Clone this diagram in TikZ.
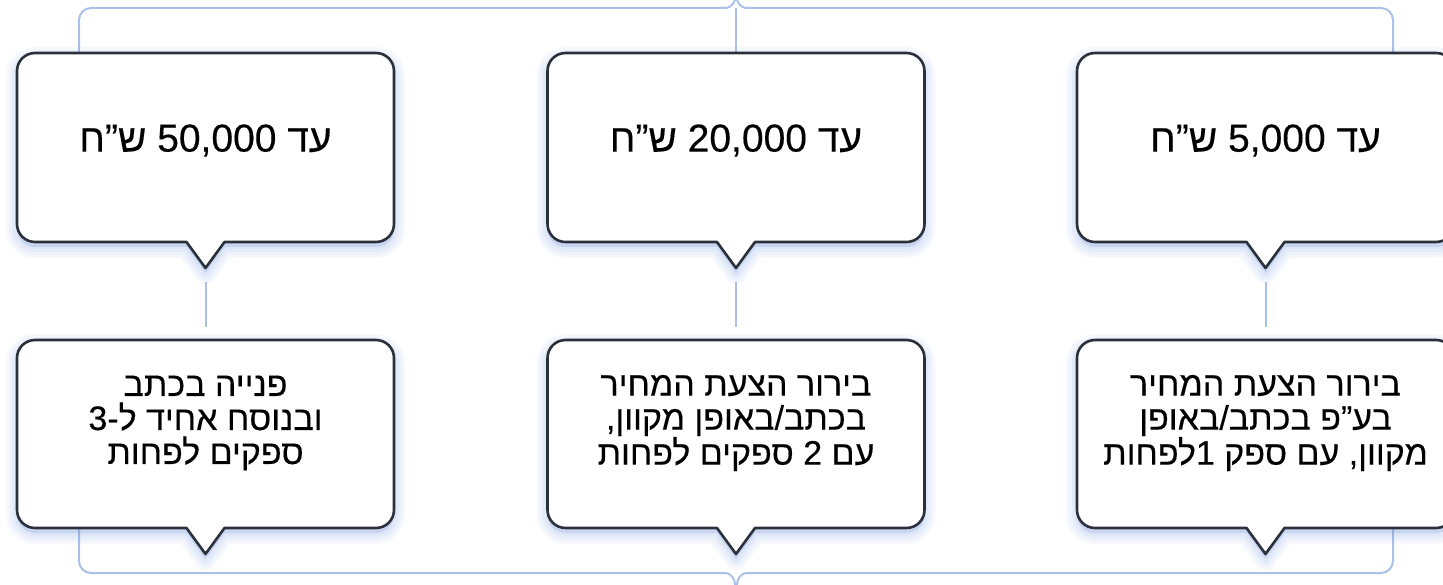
\documentclass[tikz,border=0pt]{standalone}
\usepackage{fontspec}
\setmainfont{Liberation Sans}
\newfontfamily\hebfont[Script=Hebrew,FakeBold=0.3]{Liberation Sans}
\TeXXeTstate=1
\usetikzlibrary{calc}

\definecolor{edgegray}{HTML}{2B313B}
\definecolor{linkblue}{HTML}{A9C0E8}
\definecolor{glowblue}{HTML}{7F9FE0}

\pgfdeclarelayer{background}
\pgfsetlayers{background,main}

\tikzset{
  link/.style={draw=linkblue, line width=2pt},
  bubble/.style={draw=edgegray, line width=2.6pt, fill=white, line join=round},
  glow/.style={draw=glowblue, fill=glowblue, line join=round,
    draw opacity=0.07, fill opacity=0.07, transform canvas={yshift=-5pt}},
  slot/.style={minimum width=377pt, inner sep=0pt, outer sep=0pt},
  amount/.style={font=\hebfont\fontsize{39}{42}\selectfont, text=black},
  method/.style={font=\hebfont\fontsize{34}{34}\selectfont, align=center, text=black},
}

% outline of a speech bubble: rounded box with a pointer under its middle
\newcommand\bubbleoutline[1]{%
  (#1.west) [rounded corners=18pt] -- (#1.south west)
     -- ($(#1.south west)!0.5!(#1.south)$) [sharp corners]
     -- ($(#1.south)+(-19,0)$) -- (#1-tip) -- ($(#1.south)+(19,0)$)
     -- ($(#1.south east)!0.5!(#1.south)$) [rounded corners=18pt]
     -- (#1.south east) -- (#1.north east) -- (#1.north west) -- cycle}

\newcommand\callout[3]{%
  \node[slot, minimum height=#3pt] (#1) at (#2) {};
  \coordinate (#1-tip) at ($(#1.south)+(0,26)$);
  \foreach \w in {22,16,10,5}{\path[glow, line width=\w pt] \bubbleoutline{#1};}
  \path[bubble] \bubbleoutline{#1};
}

\begin{document}
\begin{tikzpicture}[x=1pt,y=-1pt]
\useasboundingbox (0,0) rectangle (1443,585);

% upper row: amount thresholds
\callout{t1}{205.5,147.5}{189}
\callout{t2}{736,147.5}{189}
\callout{t3}{1265.5,147.5}{189}

% lower row: procurement procedure
\callout{b1}{205.5,434}{188}
\callout{b2}{736,434}{188}
\callout{b3}{1265.5,434}{188}

\node[amount] (t1-text) at ($(t1.center)+(0,-7)$) {\beginR עד \beginL 50,000\endL{} ש”ח\endR};
\node[amount] (t2-text) at ($(t2.center)+(0,-7)$) {\beginR עד \beginL 20,000\endL{} ש”ח\endR};
\node[amount] (t3-text) at ($(t3.center)+(0,-7)$) {\beginR עד \beginL 5,000\endL{} ש”ח\endR};

\node[method] (b1-text) at ($(b1.center)+(0,-11)$)
  {\beginR פנייה בכתב\endR\\\beginR ובנוסח אחיד ל-3\endR\\\beginR ספקים לפחות\endR};
\node[method] (b2-text) at ($(b2.center)+(0,-11)$)
  {\beginR בירור הצעת המחיר\endR\\\beginR בכתב/באופן מקוון,\endR\\\beginR עם \beginL 2\endL{} ספקים לפחות\endR};
\node[method] (b3-text) at ($(b3.center)+(0,-11)$)
  {\beginR בירור הצעת המחיר\endR\\\beginR בע”פ בכתב/באופן\endR\\\beginR מקוון, עם ספק 1לפחות\endR};

% brace tips of the two brackets
\coordinate (topL) at (724,8);
\coordinate (topR) at (748,8);
\coordinate (topTip) at (736,-6);
\coordinate (botL) at (724,573);
\coordinate (botR) at (748,573);
\coordinate (botTip) at (736,591);

\begin{pgfonlayer}{background}
  % top bracket
  \draw[link, rounded corners=12pt] ($(t1.north west)+(62,0)$) |- (topL);
  \draw[link] (topL) .. controls (732,8) and (735,3) .. (topTip);
  \draw[link] (topR) .. controls (740,8) and (737,3) .. (topTip);
  \draw[link, rounded corners=12pt] ($(t3.north east)+(-61,0)$) |- (topR);
  \draw[link] (t2.north) -- (t2.north |- topL);
  % links between the rows
  \draw[link, shorten <=14pt, shorten >=13pt] (t1-tip) -- (b1.north);
  \draw[link, shorten <=14pt, shorten >=13pt] (t2-tip) -- (b2.north);
  \draw[link, shorten <=14pt, shorten >=13pt] (t3-tip) -- (b3.north);
  % bottom bracket
  \draw[link, rounded corners=12pt] ($(b1.south west)+(62,0)$) |- (botL);
  \draw[link] (botL) .. controls (732,573) and (735,578) .. (botTip);
  \draw[link] (botR) .. controls (740,573) and (737,578) .. (botTip);
  \draw[link, rounded corners=12pt] ($(b3.south east)+(-61,0)$) |- (botR);
\end{pgfonlayer}
\end{tikzpicture}
\end{document}
